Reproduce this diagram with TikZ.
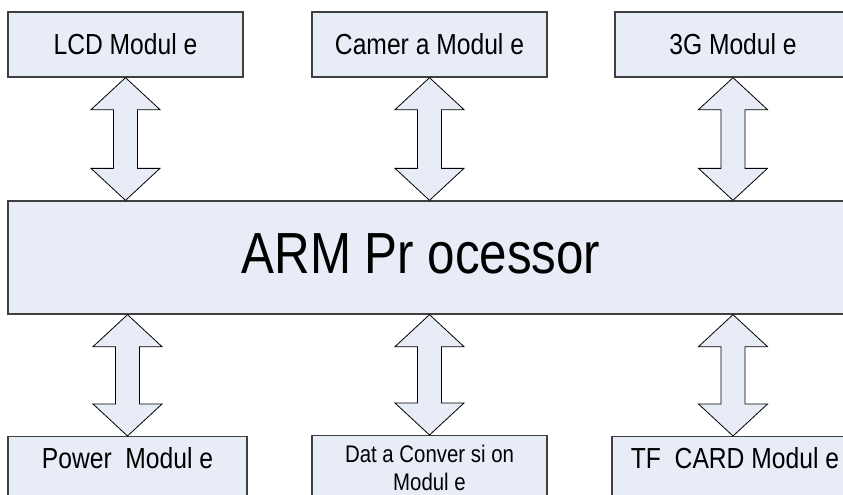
\documentclass[tikz,border=0pt]{standalone}
\usepackage{fontspec}
\setmainfont{Liberation Sans}
\newfontfamily\diagfont[FakeStretch=0.85]{Liberation Sans}
\usetikzlibrary{calc}
\definecolor{boxfill}{HTML}{E8ECF7}
\definecolor{boxline}{HTML}{404040}
\tikzset{
  modbox/.style={draw=boxline, line width=1.3pt, fill=boxfill, rectangle, inner sep=0pt,
    font=\diagfont\fontsize{29}{34}\selectfont},
  bus/.style={draw=black, line width=0.8pt, fill=boxfill, line join=miter},
  lbl/.style={inner sep=0pt, font=\diagfont\fontsize{29}{34}\selectfont},
  smalllbl/.style={inner sep=0pt, align=center, font=\diagfont\fontsize{24}{28}\selectfont}
}
\newcommand\busarrow[2]{%
  \draw[bus] let \p1=(#1), \p2=(#2) in
    (\x1,\y1) -- (\x1+34.5pt,\y1-32pt) -- (\x1+12pt,\y1-32pt) -- (\x1+12pt,\y2+32pt)
    -- (\x1+34.5pt,\y2+32pt) -- (\x1,\y2) -- (\x1-34.5pt,\y2+32pt) -- (\x1-12pt,\y2+32pt)
    -- (\x1-12pt,\y1-32pt) -- (\x1-34.5pt,\y1-32pt) -- cycle;}
\begin{document}
\begin{tikzpicture}[x=1pt,y=-1pt]
\useasboundingbox (0,0) rectangle (843,495);
\clip (0,0) rectangle (843,495);
% top modules
\node[modbox, minimum width=235pt, minimum height=65pt] (lcd) at (125.5,44.5) {LCD Modul e};
\node[modbox, minimum width=235pt, minimum height=65pt] (cam) at (429.5,44.5) {Camer a Modul e};
\node[modbox, minimum width=236pt, minimum height=65pt] (g3) at (733,44.5) {3G Modul e};
% processor
\node[modbox, minimum width=872pt, minimum height=113pt] (arm) at (444,257.5) {};
\node[lbl, font=\diagfont\fontsize{58}{64}\selectfont] (armtext) at (421,254) {ARM Pr ocessor};
% bottom modules
\node[modbox, anchor=north, minimum width=239pt, minimum height=80pt] (pow) at (127.5,436) {};
\node[lbl, anchor=north] (powtext) at ($(pow.north)+(0,11)$) {Power~ Modul e};
\node[modbox, anchor=north, minimum width=235pt, minimum height=80pt] (dat) at (429.5,435) {};
\node[smalllbl, anchor=north] (dattext) at ($(dat.north)+(0,10)$) {Dat a Conver si on\\Modul e};
\node[modbox, anchor=north, minimum width=242pt, minimum height=80pt] (tf) at (733,436) {};
\node[lbl, anchor=north] (tftext) at ($(tf.north)+(2,11)$) {TF~ CARD Modul e};
% bus arrows
\busarrow{lcd.south}{arm.north}
\busarrow{cam.south}{arm.north}
\busarrow{g3.south}{arm.north}
\busarrow{arm.south -| pow.north}{pow.north}
\busarrow{arm.south -| dat.north}{dat.north}
\busarrow{arm.south -| tf.north}{tf.north}
\end{tikzpicture}
\end{document}
